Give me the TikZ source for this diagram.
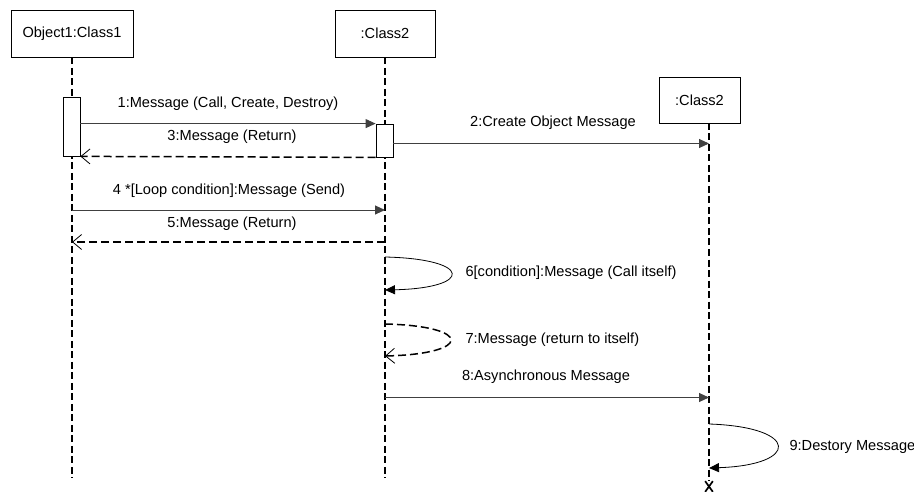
\documentclass[tikz,border=0pt]{standalone}
\usepackage{fontspec}
\setmainfont{Liberation Sans}
\usetikzlibrary{arrows.meta,shapes.misc}
\tikzset{
  obj/.style={draw=black,line width=0.8pt,inner sep=0pt},
  act/.style={draw=black,fill=white,line width=0.8pt,minimum width=17pt,inner sep=0pt},
  lifeline/.style={black,line width=1.6pt,dash pattern=on 7pt off 3.5pt},
  call/.style={black!75,line width=0.9pt,-{Triangle[length=10pt,width=9pt]}},
  ret/.style={black,line width=1.5pt,dash pattern=on 8pt off 4pt,-{Straight Barb[length=9pt,width=15pt,line width=0.8pt]}},
  lbl/.style={font=\fontsize{14.6}{17}\selectfont}
}
\begin{document}
\begin{tikzpicture}[x=1pt,y=-1pt]
\tikzstyle{every node}+=[lbl]
\useasboundingbox (0,0) rectangle (914,492);
% objects
\node [obj,minimum width=122pt,minimum height=47pt] (obj1) at (72,33.5) {Object1:Class1};
\node [obj,minimum width=100pt,minimum height=47pt] (cls2) at (385,33.5) {:Class2};
\node [obj,minimum width=81pt,minimum height=46pt] (cls2b) at (699.5,100) {:Class2};
% lifelines
\coordinate (end1) at (72,478);
\coordinate (end2) at (385,478);
\coordinate (top3) at (709,123);
\node [cross out,draw=black,line width=1.7pt,minimum width=6pt,minimum height=9pt,inner sep=0pt] (kill) at (709,486.5) {};
\draw [lifeline] (obj1.south) -- (end1);
\draw [lifeline] (cls2.south) -- (end2);
\draw [lifeline] (top3) -- (kill.north);
% activations
\node [act,minimum height=59pt] (act1) at (71.5,126.5) {};
\node [act,minimum height=33pt] (act2) at (384.5,140.5) {};
% messages
\draw [call] (act1.east |- act2.north) -- (act2.north west);
\draw (228,104) node {1:Message (Call, Create, Destroy)};
\draw [ret] (act2.south west) -- (act1.south east);
\draw (232,137) node {3:Message (Return)};
\coordinate (m2e) at (709,143.5);
\draw [call] (act2.east |- m2e) -- (m2e);
\draw (553,123) node {2:Create Object Message};
\coordinate (m4s) at (72,210);
\coordinate (m4e) at (385,210);
\draw [call] (m4s) -- (m4e);
\draw (229,191) node {4 *[Loop condition]:Message (Send)};
\coordinate (m5s) at (385,242);
\coordinate (m5e) at (72,242);
\draw [ret] (m5s) -- (m5e);
\draw (232,224) node {5:Message (Return)};
\coordinate (m6s) at (385,257);
\coordinate (m6e) at (385,290);
\draw [call,line width=0.8pt,black] (m6s) .. controls (473,259) and (473,288) .. (m6e);
\draw (462,273) node [right] {6[condition]:Message (Call itself)};
\coordinate (m7s) at (385,324);
\coordinate (m7e) at (385,356);
\draw [ret] (m7s) .. controls (473,326) and (473,354) .. (m7e);
\draw (462,340) node [right] {7:Message (return to itself)};
\coordinate (m8s) at (385,397.5);
\coordinate (m8e) at (709,397.5);
\draw [call] (m8s) -- (m8e);
\draw (546,377) node {8:Asynchronous Message};
\coordinate (m9s) at (709,424);
\coordinate (m9e) at (709,468);
\draw [call,line width=0.8pt,black] (m9s) .. controls (800,427) and (800,465) .. (m9e);
\draw (786,447) node [right] {9:Destory Message};
\end{tikzpicture}
\end{document}
